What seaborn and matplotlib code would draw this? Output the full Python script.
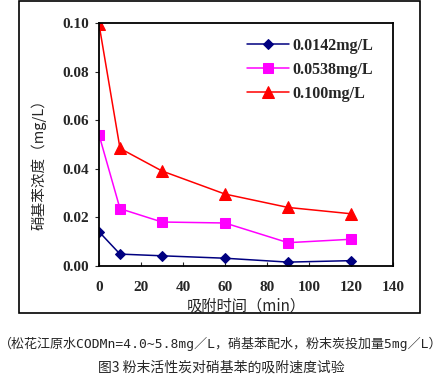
import numpy as np
import pandas as pd
import matplotlib.pyplot as plt
import seaborn as sns
from matplotlib.patches import Rectangle

# adsorption time (min)
times = [0, 10, 30, 60, 90, 120]

# nitrobenzene concentration (mg/L) for each starting dose
conc_low = [0.0141, 0.0049, 0.0042, 0.0032, 0.0016, 0.0022]
conc_mid = [0.0540, 0.0236, 0.0181, 0.0177, 0.0096, 0.0110]
conc_high = [0.0995, 0.0484, 0.0391, 0.0296, 0.0241, 0.0215]

series_names = ["0.0142mg/L", "0.0538mg/L", "0.100mg/L"]
series_colors = ["#000080", "#FF00FF", "#FF0000"]
series_markers = ["D", "s", "^"]
marker_sizes = [5, 7, 8]


# Builds a long dataframe so seaborn can do the hue split
def buildFrame():
    rows = []
    for name, vals in zip(series_names, [conc_low, conc_mid, conc_high]):
        for t, v in zip(times, vals):
            rows.append({"time": t, "conc": v, "series": name})
    return pd.DataFrame(rows)


def makePlot(df):
    sns.set_style("ticks")
    plt.rcParams['font.family'] = ['Liberation Serif', 'Noto Sans CJK SC']

    fig = plt.figure(figsize=(4.42, 3.79), dpi=100)
    ax = fig.add_axes([99 / 442, 1 - 266 / 379, (393 - 99) / 442, (266 - 23) / 379])

    for name, col, mk, ms in zip(series_names, series_colors, series_markers, marker_sizes):
        sub = df[df["series"] == name]
        sns.lineplot(x="time", y="conc", data=sub, color=col, marker=mk,
                     markersize=ms, markeredgecolor=col, linewidth=1.1,
                     label=name, ax=ax)

    ax.set_xlim(0, 140)
    ax.set_ylim(0, 0.10)
    ax.set_xticks(np.arange(0, 141, 20))
    ax.set_yticks(np.arange(0, 0.101, 0.02))
    ax.set_yticklabels(["%.2f" % v for v in np.arange(0, 0.101, 0.02)])
    ax.tick_params(axis="x", direction="in", length=3, pad=11, labelsize=11)
    ax.tick_params(axis="y", direction="out", length=3, pad=4, labelsize=11)
    for lab in ax.get_xticklabels() + ax.get_yticklabels():
        lab.set_fontweight("bold")
    for sp in ax.spines.values():
        sp.set_visible(True)
        sp.set_color("black")
        sp.set_linewidth(1.3)

    ax.set_xlabel("吸附时间（min）", fontsize=11, family=['Noto Sans CJK SC'])
    ax.set_ylabel("硝基苯浓度（mg/L）", fontsize=10.5, family=['Noto Sans CJK SC'])
    ax.xaxis.set_label_coords(0.5, -0.128)
    ax.yaxis.set_label_coords(-0.178, 0.43)

    leg = ax.legend(loc="upper left", bbox_to_anchor=(0.505, 0.938), frameon=False,
                    fontsize=11.5, handlelength=2.6, handletextpad=0.2,
                    labelspacing=0.5, borderaxespad=0, borderpad=0)
    for t in leg.get_texts():
        t.set_fontweight("bold")

    # outer frame around the chart
    fig.patches.append(Rectangle((19 / 442, 1 - 313 / 379), (420 - 19) / 442, (313 - 1) / 379,
                                 transform=fig.transFigure, fill=False,
                                 edgecolor="black", linewidth=1.2))

    fig.text(0.5, 1 - 344 / 379, "（松花江原水CODMn=4.0~5.8mg／L，硝基苯配水，粉末炭投加量5mg／L）",
             ha="center", va="center", fontsize=9.4,
             family=['DejaVu Sans Mono', 'Noto Sans CJK SC'])
    fig.text(0.5, 1 - 368 / 379, "图3 粉末活性炭对硝基苯的吸附速度试验",
             ha="center", va="center", fontsize=10, family=['Noto Sans CJK SC', 'DejaVu Sans'])

    fig.savefig("out.png", dpi=100)


if __name__ == "__main__":
    df = buildFrame()
    makePlot(df)
